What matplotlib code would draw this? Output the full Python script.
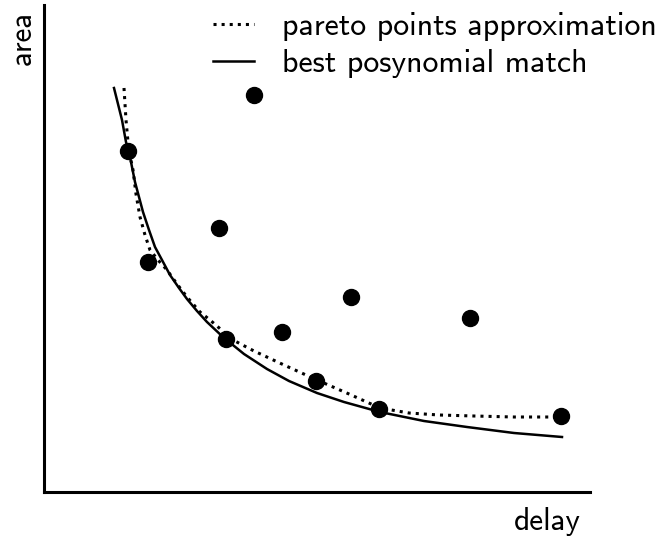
import matplotlib
matplotlib.use("Agg")
import matplotlib.pyplot as plt

# design points (delay, area), arbitrary units
delay_pts = [84, 210, 104, 175, 182, 238, 307, 272, 335, 426, 517]
area_pts = [341, 397, 230, 264, 153, 160, 195, 111, 83, 174, 76]

# pareto points approximation (dotted)
pareto_delay = [80, 82, 84, 85, 89, 92, 96, 101, 106, 114, 123, 133, 143, 156, 166, 189,
                210, 240, 273, 305, 336, 365, 395, 430, 470, 518]
pareto_area = [404, 372, 350, 341, 322, 298, 275, 257, 242, 232, 222, 208, 195, 180, 172, 152,
               141, 127, 112, 98, 84, 79, 77, 76, 75, 75]

# best posynomial match (solid)
posy_delay = [70, 74, 78, 82, 86, 91, 99, 105, 111, 118, 126, 135, 143, 153, 163, 179,
              200, 223, 245, 273, 300, 336, 380, 423, 470, 518]
posy_area = [404, 388, 372, 350, 335, 310, 280, 262, 245, 232, 217, 204, 193, 181, 170, 155,
             138, 123, 111, 99, 90, 80, 71, 65, 59, 55]

plt.rcParams['font.family'] = ['cmss10', 'DejaVu Sans']

fig = plt.figure(figsize=(6.67, 5.4), dpi=100)
ax = fig.add_axes([44/667, 48/540, 546/667, 487/540])

ax.plot(pareto_delay, pareto_area, ':', color='black', lw=2.2, label='pareto points approximation')
ax.plot(posy_delay, posy_area, '-', color='black', lw=1.8, label='best posynomial match')
ax.plot(delay_pts, area_pts, 'o', color='black', ms=11.5, ls='none')

ax.set_xlim(0, 546)
ax.set_ylim(0, 487)
ax.set_xticks([])
ax.set_yticks([])
for s in ['top', 'right']:
    ax.spines[s].set_visible(False)
for s in ['left', 'bottom']:
    ax.spines[s].set_linewidth(2.2)

# axis names
ax.text(-0.040, 0.932, 'area', transform=ax.transAxes, rotation=90,
        ha='center', va='center', fontsize=22.5)
ax.text(0.921, -0.060, 'delay', transform=ax.transAxes,
        ha='center', va='center', fontsize=22.5)

ax.legend(loc='upper left', bbox_to_anchor=(213/667, 1 - 12/540), bbox_transform=fig.transFigure,
          frameon=False, fontsize=23, handlelength=1.28, handletextpad=0.87,
          borderaxespad=0, borderpad=0, labelspacing=0.25)

fig.savefig('out.png', dpi=100)
